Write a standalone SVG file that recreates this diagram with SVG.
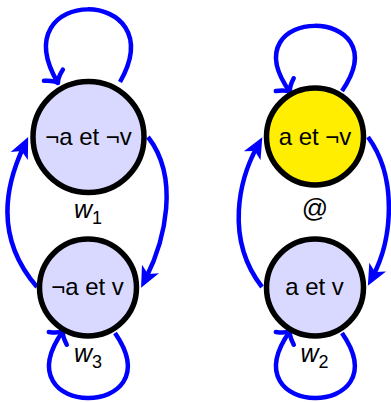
<svg xmlns="http://www.w3.org/2000/svg" width="391" height="402" viewBox="0 0 391 402">
<style>
.edge{fill:none;stroke:#0000ff;stroke-width:4.5}
.node{stroke:#000;stroke-width:5.5}
.lav{fill:#d9d9ff}
.yel{fill:#ffee00}
.lbl{font-family:"Liberation Sans",Arial,sans-serif;font-size:24px;fill:#000;text-anchor:middle}
.w{font-family:"Liberation Sans",Arial,sans-serif;font-size:25px;fill:#000}
.w .it{font-style:italic}
.w .sub{font-size:18px}
</style>
<defs>
<marker id="stealth" markerUnits="userSpaceOnUse" orient="auto" refX="0" refY="0" viewBox="-12 -11 24 22" markerWidth="24" markerHeight="22" overflow="visible">
<path d="M11,0 L-10,-9.5 L-4.5,0 L-10,9.5 Z" fill="#0000ff"/>
</marker>
<marker id="to" markerUnits="userSpaceOnUse" orient="auto" refX="0" refY="0" viewBox="-14 -14 18 28" markerWidth="18" markerHeight="28" overflow="visible">
<path d="M-9,-11 C-6,-5 -2,-1 0,0 C-2,1 -6,5 -9,11" fill="none" stroke="#0000ff" stroke-width="4.5" stroke-linecap="round" stroke-linejoin="round"/>
</marker>
</defs>
<g id="connectors">
<path class="edge" d="M120,82 C175,-15 0,-15 58,83" marker-end="url(#to)"/>
<path class="edge" d="M148,137 C180,178 165,240 146,278" marker-end="url(#stealth)"/>
<path class="edge" d="M37,287 C-8,235 8,180 23.5,147" marker-end="url(#stealth)"/>
<path class="edge" d="M115,333 C175,420 0,420 63,331" marker-end="url(#to)"/>
<path class="edge" d="M342,91 C402,4 227,4 290,92" marker-end="url(#to)"/>
<path class="edge" d="M368,137 C398,178 392,240 373,276" marker-end="url(#stealth)"/>
<path class="edge" d="M262,287 C224,238 240,178 257,147" marker-end="url(#stealth)"/>
<path class="edge" d="M342,333 C402,420 227,420 290,331" marker-end="url(#to)"/>
</g>
<g id="w1">
<circle class="node lav" cx="88.5" cy="137" r="55.5"/>
<text class="lbl" x="88.5" y="145">¬a et ¬v</text>
<text class="w" x="74" y="218"><tspan class="it">w</tspan><tspan class="sub" dy="6">1</tspan></text>
</g>
<g id="w3">
<circle class="node lav" cx="88" cy="287.5" r="48.5"/>
<text class="lbl" x="87.5" y="295">¬a et v</text>
<text class="w" x="74" y="362"><tspan class="it">w</tspan><tspan class="sub" dy="5.5">3</tspan></text>
</g>
<g id="at">
<circle class="node yel" cx="315" cy="136.5" r="48.5"/>
<text class="lbl" x="315" y="145">a et ¬v</text>
<text class="lbl" x="315" y="217" style="font-size:26px">@</text>
</g>
<g id="w2">
<circle class="node lav" cx="315" cy="287.5" r="48.5"/>
<text class="lbl" x="314.5" y="295">a et v</text>
<text class="w" x="300.5" y="362"><tspan class="it">w</tspan><tspan class="sub" dy="5.5">2</tspan></text>
</g>
</svg>
